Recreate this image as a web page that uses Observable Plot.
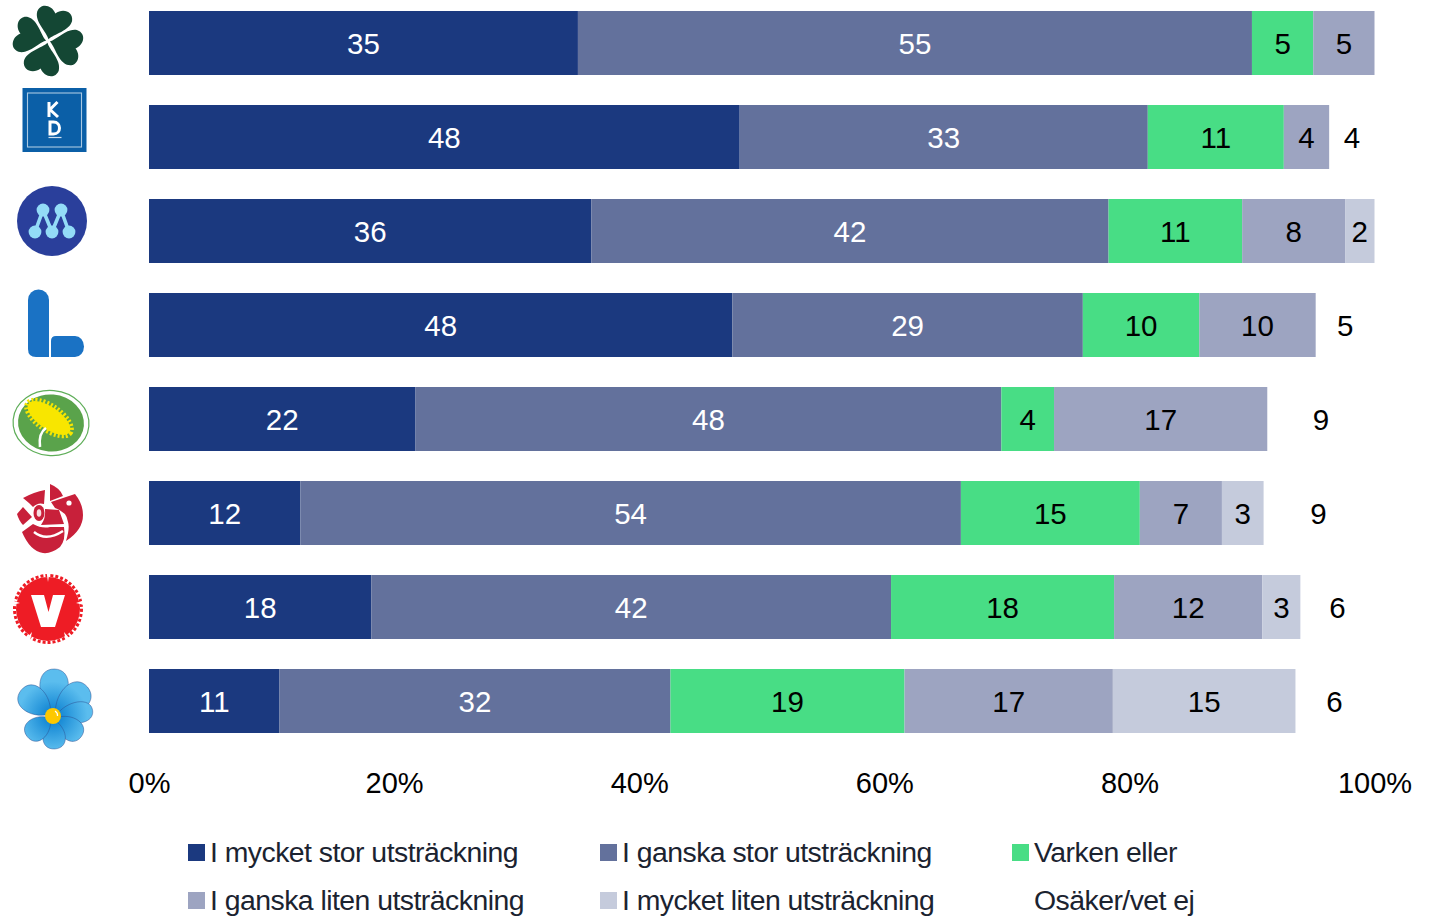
<!DOCTYPE html>
<html lang="sv">
<head>
<meta charset="utf-8">
<script src="https://cdn.jsdelivr.net/npm/d3@7"></script>
<script src="https://cdn.jsdelivr.net/npm/@observablehq/plot@0.6"></script>
<style>
html,body{margin:0;padding:0;background:#fff;width:1440px;height:917px;overflow:hidden;font-family:"Liberation Sans",Arial,sans-serif}
svg{display:block}
#legend{display:grid;grid-template-columns:412px 412px 300px;grid-auto-rows:32px;row-gap:16px;margin-left:188px;margin-top:-1px;font-size:28.4px;letter-spacing:-.53px;color:#1b2330;line-height:32px}
.item{display:flex;align-items:center;white-space:nowrap}
.sw{width:17px;height:17px;margin-right:5px;flex:none}
</style>
</head>
<body>
<div id="chart"></div>
<div id="legend"></div>
<script>
const parties = ["C","KD","M","L","MP","S","V","SD"];
const seriesNames = ["I mycket stor utsträckning","I ganska stor utsträckning","Varken eller","I ganska liten utsträckning","I mycket liten utsträckning","Osäker/vet ej"];
const seriesColors = ["#1b397f","#63719c","#48dd85","#9da4c1","#c5cbdc","transparent"];
const labelColors = ["#fff","#fff","#000","#000","#000","#000"];
const mycketStor  = [35.0,48.2,36.1,47.6,21.75,12.35,18.15,10.65];
const ganskaStor  = [55.0,33.3,42.2,28.6,47.8,53.9,42.4,31.9];
const varken      = [5.0,11.1,10.9,9.5,4.3,14.6,18.2,19.1];
const ganskaLiten = [5.0,3.7,8.4,9.5,17.4,6.7,12.1,17.0];
const mycketLiten = [0,0,2.4,0,0,3.4,3.1,14.9];
const osaker      = [0,3.7,0,4.8,8.75,8.95,6.05,6.35];
const xTicks = [0,20,40,60,80,100];

const columns = [mycketStor,ganskaStor,varken,ganskaLiten,mycketLiten,osaker];
const rows = columns.flatMap((vals,s)=>vals.map((value,p)=>({party:parties[p],series:seriesNames[s],value,fill:seriesColors[s],ink:labelColors[s]}))).filter(d=>d.value>0);

const petal=(d,w)=>`M0,-3C${-w},${-d*.4} ${-w},${-d} 0,${-d}C${w},${-d} ${w},${-d*.4} 0,-3Z`;
const cloverLeaf="M0,-2C-4,-9 -19,-16 -19,-27C-18,-37 -6,-38 0,-30C6,-38 18,-37 19,-27C19,-16 4,-9 0,-2Z";
const logos = {
 C:{cx:48,dy:-2,svg:[15,105,195,285].map(r=>`<path transform="rotate(${r}) scale(.95)" d="${cloverLeaf}" fill="#144734"/>`).join("")},
 KD:{cx:54.5,dy:-17,svg:`<rect x="-32" y="-32" width="64" height="64" fill="#0b5fa7"/><rect x="-27" y="-27" width="54" height="54" fill="none" stroke="#a9c8e2" stroke-width="1.1"/>
   <path d="M-5.5,-18V-3M3,-18L-4.500,-10.5L3.5,-3" fill="none" stroke="#fff" stroke-width="3"/><path d="M-4.500,2V14H-1C7,14 7,2 -1,2Z" fill="none" stroke="#fff" stroke-width="3"/><path d="M-6,17.500H7" stroke="#cfe0ef" stroke-width="1.2"/>`},
 M:{cx:52,dy:-10,svg:`<circle r="35" fill="#2a3f9b"/><path d="M-17,11L-9,-11L0,11L9,-11L17,11" fill="none" stroke="#93dcf7" stroke-width="3.600"/>
   ${[[-9,-11],[9,-11],[-17,11],[0,11],[17,11]].map(([x,y])=>`<circle cx="${x}" cy="${y}" r="6.4" fill="#93dcf7"/>`).join("")}`},
 L:{cx:56,dy:-1,svg:`<path d="M-28,-24A10.5,10.5 0 0 1 -7,-24V33H-20Q-28,33 -28,25Z" fill="#1a72c4"/><path d="M-5,17Q-5,12 0,12H19A9,10.5 0 0 1 19,33H-5Z" fill="#1a72c4"/>`},
 MP:{cx:51,dy:4,svg:`<ellipse rx="38" ry="32.5" transform="rotate(5)" fill="#fff" stroke="#5fae59" stroke-width="1.2"/><ellipse rx="33" ry="28.5" transform="rotate(5)" fill="#5aa34b"/>
   <g transform="translate(-2,-5) rotate(35)"><ellipse rx="25" ry="11" fill="#f8e600"/><ellipse rx="26.500" ry="12.500" fill="none" stroke="#f8e600" stroke-width="4" stroke-dasharray="2 2"/></g>
   <path d="M-11,24C-12,16 -11,9 -5,5" fill="none" stroke="#fff" stroke-width="2.6"/>`},
 S:{cx:50,dy:5,svg:`<g fill="#c8203a"><path d="M0,-34Q10,-30 13,-22L0,-17Z"/><path d="M-27,-20Q-16,-26 -5,-28L-6,-14Q-12,-16 -17,-11L-21,-15Z"/><path d="M-33,-4L-27,-11L-18,-1L-27,7Q-31,3 -33,-4Z"/>
   <path d="M1,-16L25,-24Q33,-14 33,-3Q33,12 16,23Q20,10 18,4Q17,-6 5,-10Z"/><path d="M-28,14L-17,6Q-8,11 0,9L14,9Q16,22 10,29Q1,36 -7,35Q-20,33 -28,14Z"/><path d="M-5,-9L9,-8L14,6L-9,7Q-4,0 -5,-9Z"/><ellipse cx="-11" cy="-5" rx="5.500" ry="8"/></g>
   <ellipse cx="-11" cy="-5" rx="2.3" ry="3.800" fill="#fff" opacity=".85"/><circle cx="19" cy="-15" r="2.6" fill="#fff"/><path d="M-16,14Q-4,24 13,13" fill="none" stroke="#fff" stroke-width="2.4"/>`},
 V:{cx:48,dy:2,svg:`<circle r="32" fill="#ee1c25"/><circle r="33.5" fill="none" stroke="#ee1c25" stroke-width="3" stroke-dasharray="3 2"/>
   <path d="M-1.5,-37H1.5L0,-27ZM-37,-9L-28,-6L-36,-4ZM37,-9L28,-6L36,-4ZM-22,30L-16,23L-18,32ZM22,30L16,23L18,32Z" fill="#fff"/><path d="M-17,-14H-4L0.5,3L5,-14H17L7,18H-7Z" fill="#fff"/>`},
 SD:{cx:53,dy:15,svg:`<defs><radialGradient id="sdG" gradientUnits="userSpaceOnUse" cx="0" cy="0" r="46"><stop offset=".15" stop-color="#1588d4"/><stop offset=".75" stop-color="#5bbdee"/></radialGradient></defs>
   ${[[2,47,19],[50,45,19],[82,40,14],[126,35,15],[177,33,15],[231,33,15],[309,41,18]].map(([r,d,w])=>`<path transform="rotate(${r})" d="${petal(d,w)}" fill="url(#sdG)" stroke="#2b4c8f" stroke-width=".7" stroke-opacity=".65"/>`).join("")}
   <circle r="8" fill="#fdc800"/><path d="M2,-5Q5,-3 4.500,0" fill="none" stroke="#fff" stroke-width="1.2"/>`}
};
function logoMark(index,{y}){
  const g=d3.create("svg:g").attr("aria-label","partilogotyper");
  for(const p of parties){
    const l=logos[p];
    g.append("g").attr("transform",`translate(${l.cx},${y(p)+y.bandwidth()/2+l.dy})`).html(l.svg);
  }
  return g.node();
}

const plot = Plot.plot({
  width:1440,height:837,marginLeft:149,marginRight:65.5,marginTop:0,marginBottom:89,
  style:{fontFamily:"'Liberation Sans',Arial,sans-serif",background:"#fff",overflow:"visible"},
  x:{domain:[0,100],axis:null},
  y:{domain:parties,range:[-4,748],paddingInner:30/94,paddingOuter:15/94,axis:null},
  color:{type:"identity"},
  marks:[
    Plot.barX(rows,Plot.stackX({x:"value",y:"party",z:"series",order:null,fill:"fill"})),
    Plot.text(rows,Plot.stackX({x:"value",y:"party",z:"series",order:null,text:d=>String(Math.round(d.value)),fill:"ink",fontSize:29.5,dy:1,dx:-0.5})),
    Plot.axisX({ticks:xTicks,anchor:"bottom",tickSize:0,tickPadding:24,tickFormat:d=>d+"%",fontSize:29,color:"#000",label:null}),
    logoMark
  ]
});
document.getElementById("chart").append(plot);
const legend=d3.select("#legend");
seriesNames.forEach((n,i)=>{
  const it=legend.append("div").attr("class","item");
  it.append("span").attr("class","sw").style("background",seriesColors[i]);
  it.append("span").text(n);
});
</script>
</body>
</html>
